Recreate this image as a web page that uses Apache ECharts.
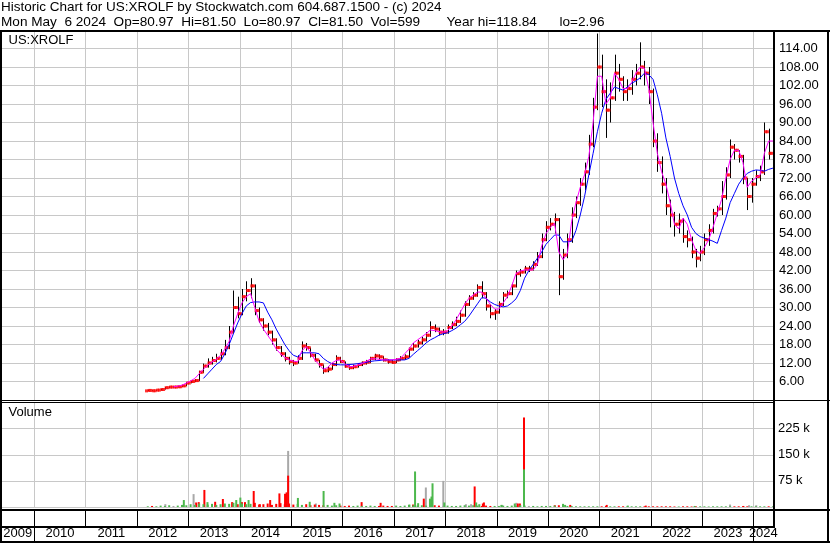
<!DOCTYPE html>
<html><head><meta charset="utf-8">
<script src="https://cdn.jsdelivr.net/npm/echarts@6/dist/echarts.min.js"></script>
<style>html,body{margin:0;padding:0;background:#fff}#c{width:830px;height:543px}</style>
</head><body><div id="c"></div>
<script>
const headerLine1 = 'Historic Chart for US:XROLF by Stockwatch.com 604.687.1500 - (c) 2024';
const headerLine2 = 'Mon May  6 2024  Op=80.97  Hi=81.50  Lo=80.97  Cl=81.50  Vol=599       Year hi=118.84      lo=2.96';
const symbolLabel = 'US:XROLF';
const volumeLabel = 'Volume';
const yearLabels = ['2009','2010','2011','2012','2013','2014','2015','2016','2017','2018','2019','2020','2021','2022','2023','2024'];
const priceTicks = [6,12,18,24,30,36,42,48,54,60,66,72,78,84,90,96,102,108,114];
const volumeTicks = [75000,150000,225000];
const firstMonth = [2012, 3];

// monthly [open, close, low, high], Mar 2012 .. May 2024
const ohlc = [
 [2.96,3.1,2.96,3.3],[3.1,3.0,2.96,3.2],[3.0,3.2,3.0,3.3],[3.2,3.4,3.1,3.6],[3.4,4.0,3.4,4.2],[4.0,4.2,3.9,4.4],[4.2,4.2,4.0,4.5],[4.2,4.3,4.1,4.6],[4.3,4.6,4.2,4.9],[4.6,5.5,4.5,5.8],
 [5.5,6.0,5.4,6.4],[6.0,6.3,5.8,6.8],[6.3,9.0,6.2,9.5],[9.0,11.0,8.8,11.8],[11.0,12.0,10.5,13.5],[12.0,12.8,11.5,14.0],[12.8,13.5,12.2,15.0],[13.5,15.0,13.0,16.5],[15.0,17.0,14.5,19.5],[17.0,22.0,16.5,24.0],[22.0,30.0,21.5,35.5],[30.0,28.0,26.5,33.5],
 [28.0,33.5,27.5,36.0],[33.5,35.5,32.0,38.5],[35.5,37.0,33.0,39.5],[37.0,29.0,27.5,37.5],[29.0,26.0,25.0,30.0],[26.0,24.0,22.5,26.5],[24.0,22.0,21.0,25.0],[22.0,19.5,18.0,22.5],[19.5,17.0,16.0,20.0],[17.0,15.0,14.0,17.5],[15.0,13.5,12.5,15.5],[13.5,12.5,11.5,14.0],
 [12.5,12.0,11.0,13.0],[12.0,13.5,11.8,14.5],[13.5,17.5,13.0,19.0],[17.5,17.0,16.0,18.5],[17.0,14.5,13.8,17.0],[14.5,13.0,12.5,15.0],[13.0,11.5,10.5,13.0],[11.5,9.5,8.5,11.5],[9.5,10.0,9.0,11.0],[10.0,11.5,9.8,12.0],[11.5,13.5,11.0,14.5],[13.5,12.5,12.0,14.0],
 [12.5,11.0,10.5,12.5],[11.0,10.5,9.8,11.2],[10.5,10.8,10.0,11.5],[10.8,11.5,10.5,12.0],[11.5,12.0,11.0,12.5],[12.0,12.3,11.5,13.0],[12.3,13.5,12.0,14.0],[13.5,14.3,13.0,15.0],[14.3,14.0,13.2,14.8],[14.0,13.0,12.5,14.2],[13.0,12.5,11.8,13.3],[12.5,12.2,11.8,13.0],
 [12.2,13.0,12.0,13.5],[13.0,13.5,12.8,14.2],[13.5,14.0,13.0,14.8],[14.0,16.5,13.8,17.0],[16.5,17.5,16.0,18.5],[17.5,18.5,17.0,19.5],[18.5,19.5,18.0,20.5],[19.5,21.0,19.0,22.0],[21.0,23.5,20.5,25.5],[23.5,23.0,22.0,24.5],[23.0,22.0,21.0,23.5],[22.0,22.0,21.0,23.0],
 [22.0,23.5,21.5,24.5],[23.5,24.5,23.0,25.5],[24.5,25.5,24.0,27.0],[25.5,27.5,25.0,29.0],[27.5,31.0,27.0,32.0],[31.0,33.0,30.5,34.0],[33.0,34.0,32.5,35.0],[34.0,36.5,33.5,37.5],[36.5,34.5,33.0,38.5],[34.5,30.5,29.0,35.0],[30.5,28.0,26.5,31.0],[28.0,28.5,26.0,29.5],
 [28.5,31.0,28.0,32.0],[31.0,34.0,30.5,35.0],[34.0,34.5,33.0,35.5],[34.5,37.0,34.0,38.0],[37.0,41.0,36.5,42.0],[41.0,41.5,40.0,42.5],[41.5,42.5,41.0,43.5],[42.5,42.5,41.5,43.5],[42.5,44.0,42.0,45.0],[44.0,46.5,43.5,48.0],[46.5,52.0,46.0,54.0],[52.0,56.0,51.5,58.0],
 [56.0,57.0,55.0,59.0],[57.0,58.5,54.0,60.5],[58.5,40.0,34.0,59.0],[40.0,47.0,39.0,49.0],[47.0,52.0,46.0,54.0],[52.0,60.0,51.0,62.5],[60.0,64.0,59.0,66.0],[64.0,70.0,63.0,72.0],[70.0,74.0,68.0,77.0],[74.0,83.0,73.0,86.0],[83.0,95.0,82.0,98.0],[95.0,108.0,94.0,118.84],
 [108.0,100.0,95.0,112.0],[100.0,94.0,85.0,104.0],[94.0,98.0,90.0,103.0],[98.0,106.0,97.0,112.0],[106.0,104.0,100.0,109.0],[104.0,100.0,97.0,105.0],[100.0,101.0,97.0,104.0],[101.0,104.0,99.0,107.0],[104.0,106.0,102.0,109.0],[106.0,108.0,104.0,116.0],[108.0,106.0,102.0,110.0],[106.0,100.0,96.0,108.0],
 [100.0,84.0,82.0,101.0],[84.0,77.0,74.0,86.5],[77.0,70.0,67.0,79.0],[70.0,63.0,60.0,72.0],[63.0,60.0,56.0,65.0],[60.0,57.0,53.0,61.0],[57.0,58.0,54.0,60.5],[58.0,53.0,51.0,59.0],[53.0,52.0,49.5,55.0],[52.0,48.0,46.0,53.0],[48.0,46.0,43.0,49.0],[46.0,48.0,45.0,50.0],
 [48.0,52.0,47.0,54.0],[52.0,55.0,50.0,57.0],[55.0,60.5,54.0,62.0],[60.5,62.0,59.5,63.0],[62.0,66.0,60.0,71.0],[66.0,73.0,65.0,75.5],[73.0,82.0,72.0,84.5],[82.0,81.0,78.0,83.0],[81.0,79.0,77.0,81.0],[79.0,72.0,70.0,79.5],[72.0,66.0,61.6,72.0],[66.0,70.0,64.0,72.0],
 [70.0,72.5,69.5,74.5],[72.5,74.0,71.0,76.0],[74.0,87.0,73.0,90.0],[87.0,80.0,78.0,88.0],[80.0,81.5,78.0,82.0]
];
const fastMA = [
 null,null,null,null,null,null,4.3,4.5,4.8,5.5,
 6.2,7.0,8.5,10.0,11.3,12.3,13.2,14.5,16.5,19,24,28,
 31.5,33.5,34.5,30,25.5,23,21,19,16.5,15,13.8,13,
 12.6,12.4,16,17.3,15.5,13,11.5,10,10.5,12,12.8,13,
 11.8,10.8,10.9,11.3,11.8,12.5,13.3,13.4,13.2,13,13,13,
 13.2,13.5,15,16.5,18.5,19.5,20.5,21.5,22.7,22.5,22.2,22,
 22.5,24,26,28.5,31,33,34,35,35,33,31,29.5,
 29.5,31.5,33.5,37,41,41.8,42.2,42.2,42.2,44,50,54,
 56,57.3,48,45.5,47.6,58,64,69,73,79,90,105,
 105,96,98,106,104,101,101,103,106,108,107.5,101,
 90,80,74,70,64,57,55.5,59,57,52,48.5,47.5,
 49.5,52,56,60.5,65,72,78,81,81,77,69,71,
 72,73,80,84,84
];
const slowMA = [
 null,null,null,null,null,null,null,null,null,null,
 null,null,null,7,8.5,10,11.5,12.5,15,18,21.5,25,
 28,30.5,31.6,31.8,31.8,31.5,28.5,26,23,20.5,18,16,
 14.5,14,15.3,15.3,15.3,15.3,15,13.5,12.5,11.8,11.5,11.4,
 11.4,11.5,11.6,11.8,12,12.2,12.5,12.7,12.8,13,13,13,
 13,13,13,13.5,14.8,16,17.2,18.5,19.5,20.2,21,21.5,
 21.8,22.5,23.3,24.4,25.5,27.2,29.2,31.2,33.2,33,31.8,31,
 30.5,30.2,30.5,31.5,32.8,35.5,39.5,42,44,46,48,50.5,
 52,53.5,53.5,51.3,51.3,51.5,55,60,66,73,80,87,
 93,97.5,99.5,101.5,101,100.5,101.5,102.7,103.5,104.5,106,105.5,
 104,99,93,85,79,72,67,63,60,56,54,53,
 52.5,52,51.5,50.8,55,59,64,67,70,72,73.5,74.2,
 74.6,74.5,74.2,74.8,75.2
];
// monthly background volume, thousands of shares
const volBase = [
 2,3,2,4,3,5,3,4,6,5,
 8,6,10,8,7,9,6,8,10,9,12,8,
 10,8,9,12,7,8,10,6,9,11,8,10,
 7,9,6,8,5,7,6,5,6,4,5,4,
 3,4,3,4,3,3,4,3,3,4,3,3,
 4,3,4,6,5,4,5,4,6,5,4,3,
 4,3,3,4,5,4,5,4,3,4,3,3,
 3,4,3,4,3,5,4,3,3,2,3,3,
 3,4,5,4,3,3,2,2,2,2,2,2,
 2,3,2,2,2,2,2,2,2,2,2,2,
 2,2,2,2,2,1.5,1.5,2,2,1.5,2,2,
 2,1.5,2,2,2,2,2,2,2,2,2,2,
 2,2,2,2,2
];
// single-day spikes [date as decimal year, thousands]
const volGraySpikes = [[2012.55,8],[2013.1,37],[2014.94,161],[2015.48,10],[2017.62,56],[2017.96,75],[2018.4,8],[2018.5,8],[2019.1,6],[2019.38,12],[2023.54,7],[2023.91,5],[2024.05,5]];
const volRedSpikes = [[2013.15,13],[2013.2,14],[2013.31,49],[2013.52,15],[2013.67,23],[2013.85,14],[2014.04,14],[2014.1,14],[2014.27,46],[2014.39,8],[2014.59,20],[2014.77,39],[2014.88,38],[2014.91,42],[2014.94,90],[2016.37,14],[2016.74,12],[2017.37,7],[2017.58,24],[2018.57,59],[2018.73,10],[2018.75,13],[2019.41,10],[2019.45,10],[2019.53,257],[2020.13,5],[2020.43,6],[2021.14,6],[2021.9,4],[2023.8,3]];
const volGreenSpikes = [[2012.91,20],[2013.37,14],[2013.93,20],[2014.01,27],[2014.17,20],[2015.13,26],[2015.36,15],[2015.63,46],[2015.84,12],[2015.94,10],[2017.3,7],[2017.41,102],[2017.47,11],[2017.7,24],[2017.73,30],[2017.75,68],[2017.98,13],[2018.6,13],[2018.66,8],[2019.09,6],[2019.35,10],[2019.53,108],[2020.29,9],[2020.33,6],[2021.55,4],[2022.85,3]];

// ---------- build ----------
const X_MIN = 2009.352, X_MAX = 2024.376;
const FONT = '"Liberation Sans", Arial, sans-serif';
const GRID_C = '#c8c8c8';
function monthX(i) {
  const m0 = firstMonth[1] - 1 + i;
  return firstMonth[0] + Math.floor(m0 / 12) + ((m0 % 12) + 0.5) / 12;
}
const hiloData = ohlc.map((r, i) => [monthX(i), r[2], r[3]]);
const redDots = [];
ohlc.forEach((r, i) => { redDots.push([monthX(i) - 0.025, r[0]]); redDots.push([monthX(i) + 0.025, r[1]]); });
const fastData = fastMA.map((v, i) => v == null ? null : [monthX(i), v]).filter(Boolean);
const slowData = slowMA.map((v, i) => v == null ? null : [monthX(i), v]).filter(Boolean);
const volRed = [], volGreen = [], volGray = [];
volBase.forEach((v, i) => {
  const p = [monthX(i), v * 1000];
  if (ohlc[i][1] > ohlc[i][0]) volGreen.push(p); else if (ohlc[i][1] < ohlc[i][0]) volRed.push(p); else volGray.push(p);
});
volGraySpikes.forEach(d => volGray.push([d[0], d[1] * 1000]));
volRedSpikes.forEach(d => volRed.push([d[0], d[1] * 1000]));
volGreenSpikes.forEach(d => volGreen.push([d[0], d[1] * 1000]));
const yearBounds = yearLabels.map(y => +y).filter(y => y > X_MIN && y < X_MAX);
const labelCenters = yearLabels.map(y => {
  const a = Math.max(+y, X_MIN), b = Math.min(+y + 1, X_MAX);
  return (a + b) / 2;
});

const gridL = 1, gridR = 57;
const xBase = (gi) => ({
  gridIndex: gi, type: 'value', min: X_MIN, max: X_MAX,
  axisLine: {show: false}, axisTick: {show: false, customValues: yearBounds}, axisLabel: {show: false},
  splitLine: {show: true, lineStyle: {color: GRID_C, width: 1}}
});
const x2 = xBase(2);
x2.splitLine = {show: true, lineStyle: {color: '#000', width: 1}};
x2.axisLabel = {show: true, customValues: labelCenters, formatter: v => String(Math.floor(v + 1e-6)),
  margin: 1, color: '#000', fontSize: 13, fontFamily: FONT, hideOverlap: false};

const rect = (x, y, w, h) => ({type: 'rect', z: 100, shape: {x, y, width: w, height: h}, style: {fill: '#000'}, silent: true});
const txt = (t, x, y, fs) => ({type: 'text', z: 100, x, y, style: {text: t, font: (fs || 13) + 'px ' + FONT, fill: '#000', verticalAlign: 'top', align: 'left'}, silent: true});

const option = {
  animation: false,
  backgroundColor: '#fff',
  grid: [
    {left: gridL, right: gridR, top: 30, height: 370},
    {left: gridL, right: gridR, top: 402.5, height: 104.5},
    {left: gridL, right: gridR, top: 511, height: 15}
  ],
  xAxis: [xBase(0), xBase(1), x2],
  yAxis: [
    {gridIndex: 0, type: 'value', position: 'right', min: 0, max: 120, interval: 6,
     axisLine: {show: false}, axisTick: {show: false},
     axisLabel: {margin: 6, color: '#000', fontSize: 13, fontFamily: FONT,
       formatter: v => priceTicks.includes(v) ? v.toFixed(2) : ''},
     splitLine: {show: true, lineStyle: {color: GRID_C, width: 1}}},
    {gridIndex: 1, type: 'value', position: 'right', min: 0, max: 300000, interval: 75000,
     axisLine: {show: false}, axisTick: {show: false},
     axisLabel: {margin: 5, color: '#000', fontSize: 13, fontFamily: FONT,
       formatter: v => volumeTicks.includes(v) ? (v / 1000) + ' k' : ''},
     splitLine: {show: true, lineStyle: {color: GRID_C, width: 1}}},
    {gridIndex: 2, type: 'value', min: 0, max: 1, show: false}
  ],
  series: [
    {type: 'custom', xAxisIndex: 0, yAxisIndex: 0, data: hiloData, encode: {x: 0, y: [1, 2]}, clip: true,
     renderItem: (params, api) => {
       const p1 = api.coord([api.value(0), api.value(1)]);
       const p2 = api.coord([api.value(0), api.value(2)]);
       const x = Math.round(p1[0]) + 0.5;
       return {type: 'line', shape: {x1: x, y1: p1[1], x2: x, y2: p2[1]}, style: {stroke: '#000', lineWidth: 1}};
     }},
    {type: 'scatter', xAxisIndex: 0, yAxisIndex: 0, data: redDots, symbol: 'rect', symbolSize: [3, 3],
     itemStyle: {color: '#ff0000'}, silent: true},
    {type: 'line', xAxisIndex: 0, yAxisIndex: 0, data: slowData, showSymbol: false, symbol: 'none',
     lineStyle: {color: '#0000ff', width: 1}, silent: true},
    {type: 'line', xAxisIndex: 0, yAxisIndex: 0, data: fastData, showSymbol: false, symbol: 'none',
     lineStyle: {color: '#ff00ff', width: 1}, silent: true},
    {type: 'bar', xAxisIndex: 1, yAxisIndex: 1, data: volGray, barWidth: 2, barGap: '-100%', itemStyle: {color: '#a8a8a8'}, silent: true},
    {type: 'bar', xAxisIndex: 1, yAxisIndex: 1, data: volRed, barWidth: 2, barGap: '-100%', itemStyle: {color: '#ff0000'}, silent: true},
    {type: 'bar', xAxisIndex: 1, yAxisIndex: 1, data: volGreen, barWidth: 2, barGap: '-100%', itemStyle: {color: '#4cb84c'}, silent: true}
  ],
  graphic: [
    rect(0, 30, 830, 2), rect(0, 30, 2, 513), rect(827, 30, 2, 513), rect(773, 30, 2, 497),
    rect(0, 400, 830, 1), rect(0, 402, 775, 1),
    rect(0, 509, 830, 2), rect(0, 526, 775, 2), rect(0, 541, 830, 2),
    rect(34, 527, 1, 14), rect(753, 527, 1, 14),
    txt(headerLine1, 1, 0.5, 13.5), txt(headerLine2, 1, 15.5, 13.6),
    txt(symbolLabel, 8.5, 33.5), txt(volumeLabel, 8.5, 406)
  ]
};
const chart = echarts.init(document.getElementById('c'), null, {renderer: 'canvas'});
chart.setOption(option);
</script></body></html>
